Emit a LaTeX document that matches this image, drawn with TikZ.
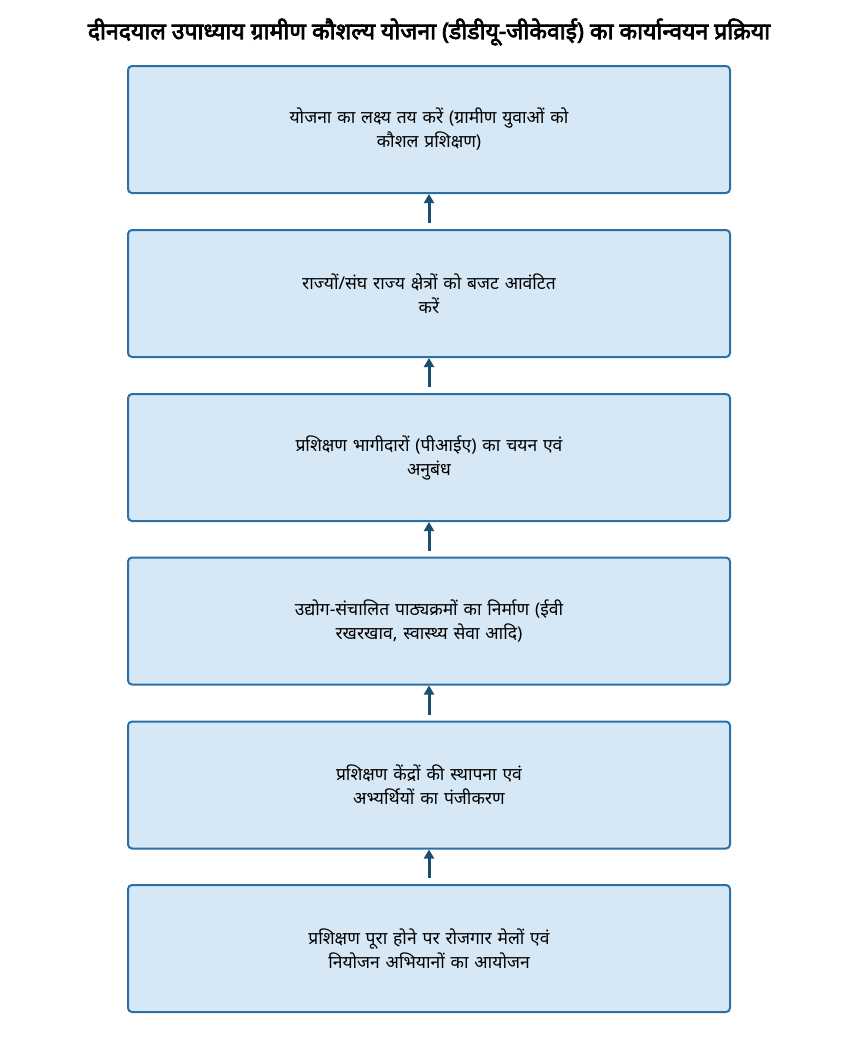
\documentclass[tikz,border=0pt]{standalone}
\usepackage{fontspec}
\setmainfont{Noto Sans}[Script=Devanagari,BoldFont={Noto Sans},BoldFeatures={FakeBold=3}]
\usetikzlibrary{arrows.meta}
\definecolor{boxfill}{HTML}{D6E8F6}
\definecolor{boxline}{HTML}{2C70A8}
\definecolor{arr}{HTML}{1B4F72}
\begin{document}
\begin{tikzpicture}[x=1pt,y=1pt,
  box/.style={draw=boxline,line width=2pt,fill=boxfill,rounded corners=4pt,minimum width=602pt,minimum height=127pt,align=center,text width=330pt,font=\fontsize{17.5}{24}\selectfont},
  link/.style={draw=arr,line width=3pt,-{Triangle[length=9pt,width=10pt]}}]
\useasboundingbox (0,0) rectangle (858,-1053);
\node[font=\bfseries\fontsize{23}{26}\selectfont] (t) at (429,-32) {दीनदयाल उपाध्याय ग्रामीण कौशल्य योजना (डीडीयू-जीकेवाई) का कार्यान्वयन प्रक्रिया};
\node[box] (b1) at (429,-129.5) {योजना का लक्ष्य तय करें (ग्रामीण युवाओं को\\ कौशल प्रशिक्षण)};
\node[box] (b2) at (429,-293.5) {राज्यों/संघ राज्य क्षेत्रों को बजट आवंटित\\ करें};
\node[box] (b3) at (429,-457.5) {प्रशिक्षण भागीदारों (पीआईए) का चयन एवं\\ अनुबंध};
\node[box] (b4) at (429,-621) {उद्योग-संचालित पाठ्यक्रमों का निर्माण (ईवी\\ रखरखाव, स्वास्थ्य सेवा आदि)};
\node[box] (b5) at (429,-785) {प्रशिक्षण केंद्रों की स्थापना एवं\\ अभ्यर्थियों का पंजीकरण};
\node[box] (b6) at (429,-948.5) {प्रशिक्षण पूरा होने पर रोजगार मेलों एवं\\ नियोजन अभियानों का आयोजन};
\foreach \a/\b in {b2/b1,b3/b2,b4/b3,b5/b4,b6/b5}
  \draw[link] ([yshift=6pt]\a.north) -- (\b.south);
\end{tikzpicture}
\end{document}
